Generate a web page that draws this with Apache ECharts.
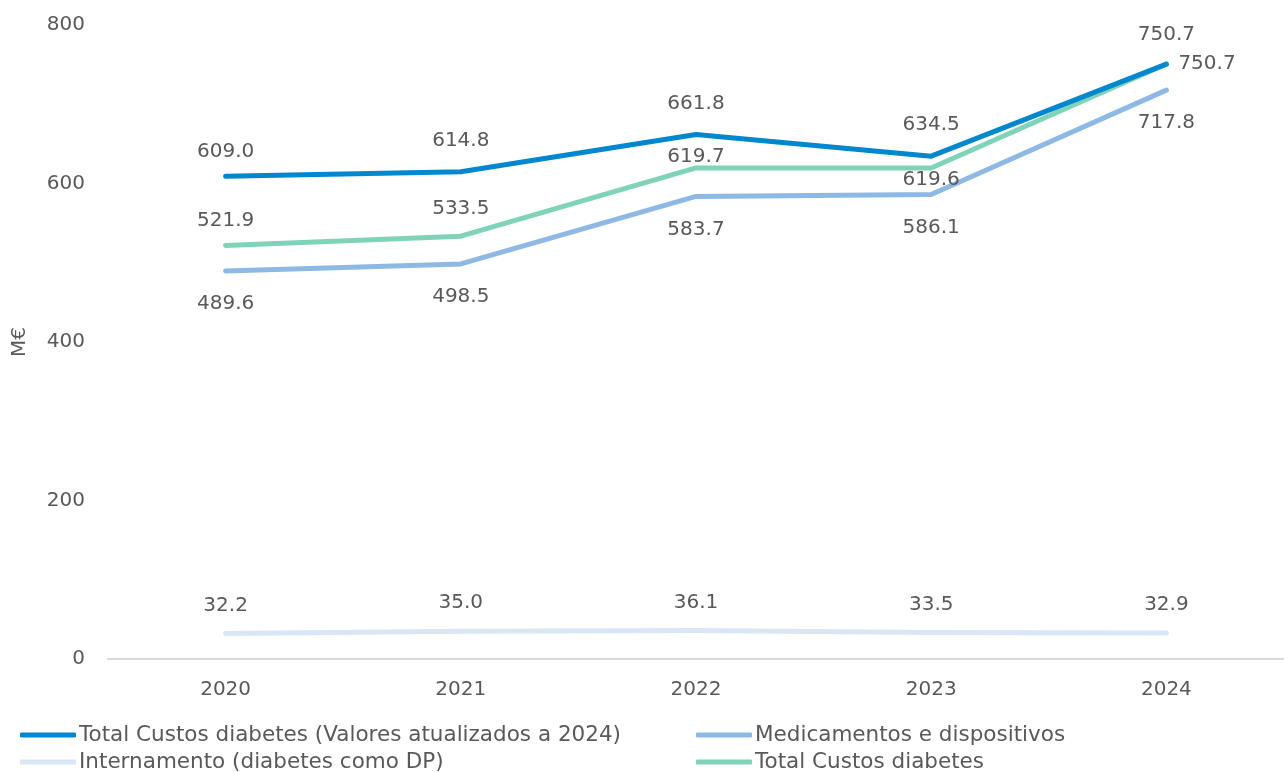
<!DOCTYPE html>
<html><head><meta charset="utf-8">
<script src="https://cdn.jsdelivr.net/npm/echarts@6/dist/echarts.min.js"></script>
<style>html,body{margin:0;padding:0;background:#fff}#c{width:1284px;height:772px}</style>
</head><body><div id="c"></div>
<script>
const categories = ['2020','2021','2022','2023','2024'];
const totalAtualizados = [609.0, 614.8, 661.8, 634.5, 750.7];
const medicamentos = [489.6, 498.5, 583.7, 586.1, 717.8];
const internamento = [32.2, 35.0, 36.1, 33.5, 32.9];
const totalCustos = [521.9, 533.5, 619.7, 619.6, 750.7];
const seriesNames = ['Total Custos diabetes (Valores atualizados a 2024)','Medicamentos e dispositivos','Internamento (diabetes como DP)','Total Custos diabetes'];
const yTicks = [0, 200, 400, 600, 800];

const FONT = 'DejaVu Sans';
const TXT = '#595959';
const FS = 20;
const lbl = (pos, dist) => ({show:true, position:pos, distance:dist, color:TXT, fontFamily:FONT, fontSize:FS, formatter:p=>Number(p.value).toFixed(1)});

function mkSeries(name, data, color, label, perPoint){
  return {
    name, type:'line', data: data.map((v,i)=> perPoint && perPoint[i] ? {value:v, label:perPoint[i]} : v),
    symbol:'circle', symbolSize:2, showSymbol:true, smooth:false, color,
    itemStyle:{color},
    lineStyle:{width:5, color, cap:'round', join:'round'},
    label, labelLayout:{hideOverlap:false}, z: 2
  };
}

const legendBase = (name, left, top) => ({
  data:[name], orient:'horizontal', left, top, itemGap:0, padding:0,
  itemWidth:56, itemHeight:5, icon:'roundRect',
  textStyle:{color:TXT, fontFamily:FONT, fontSize:21.5, padding:[0,0,0,-2]}
});

const chart = echarts.init(document.getElementById('c'));
chart.setOption({
  animation:false,
  grid:{left:108, right:0, top:25, bottom:113, containLabel:false},
  xAxis:{type:'category', data:categories, boundaryGap:true,
    axisLine:{lineStyle:{color:'#D9D9D9', width:2}}, axisTick:{show:false},
    axisLabel:{color:TXT, fontFamily:FONT, fontSize:FS, margin:21}},
  yAxis:{type:'value', min:0, max:800, interval:200,
    name:'M€', nameLocation:'middle', nameGap:78, nameTextStyle:{color:TXT, fontFamily:FONT, fontSize:FS},
    axisLine:{show:false}, axisTick:{show:false}, splitLine:{show:false},
    axisLabel:{color:TXT, fontFamily:FONT, fontSize:FS, margin:23,
      formatter:v=> yTicks.includes(v) ? String(v) : ''}},
  legend:[
    legendBase(seriesNames[0], 20, 724),
    legendBase(seriesNames[2], 20, 751),
    legendBase(seriesNames[1], 696, 724),
    legendBase(seriesNames[3], 696, 751)
  ],
  series:[
    mkSeries(seriesNames[3], totalCustos, '#7FD3B8', lbl('top', 15),
      [{position:'top', distance:14}, {position:'top', distance:16}, {position:'top', distance:0, offset:[-38,0]}, {position:'bottom', distance:1, offset:[-9,0]}, {position:'right', distance:11, offset:[0,-2]}]),
    mkSeries(seriesNames[2], internamento, '#DAE6F5', lbl('top', 17)),
    mkSeries(seriesNames[1], medicamentos, '#8DB9E4', lbl('bottom', 22)),
    mkSeries(seriesNames[0], totalAtualizados, '#0087CD', lbl('top', 20),
      [{position:'top', distance:14}, null, null, null, {position:'top', distance:18}])
  ]
});
</script></body></html>
